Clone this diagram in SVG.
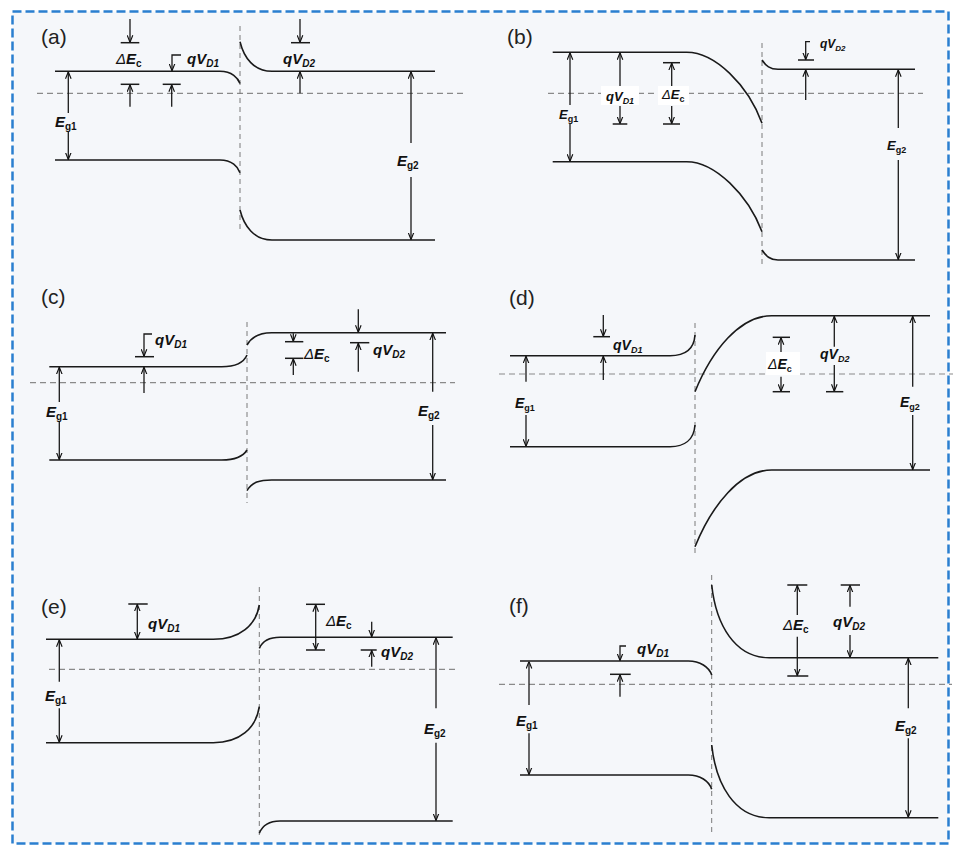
<svg xmlns="http://www.w3.org/2000/svg" width="961" height="856" viewBox="0 0 961 856">
<defs>
<style>
.band{fill:none;stroke:#1a1a1a;stroke-width:1.6}
.fermi{fill:none;stroke:#8a8a8a;stroke-width:1.2;stroke-dasharray:6 4}
.iface{fill:none;stroke:#7a7a7a;stroke-width:1;stroke-dasharray:5 4}
.ar{fill:none;stroke:#1a1a1a;stroke-width:1.3;marker-end:url(#ah)}
.ar2{fill:none;stroke:#1a1a1a;stroke-width:1.3;marker-start:url(#ah);marker-end:url(#ah)}
.bar{fill:none;stroke:#1a1a1a;stroke-width:1.5}
.lb{font-family:"Liberation Sans",Arial,sans-serif;font-weight:bold;font-style:italic;font-size:15px;fill:#111}
.sm{font-size:13px}
.sub{font-size:10px}
.up{font-style:normal}
.dl{font-style:italic;font-weight:normal}
.pl{font-family:"Liberation Sans",Arial,sans-serif;font-size:21px;fill:#222}
</style>
<marker id="ah" viewBox="0 0 8 8" refX="8" refY="4" markerWidth="7" markerHeight="7" markerUnits="userSpaceOnUse" orient="auto-start-reverse"><path d="M0,0.8 L8,4 L0,7.2" fill="none" stroke="#111" stroke-width="1.3"/></marker>
</defs>
<rect x="0" y="0" width="961" height="856" fill="#ffffff"/>
<rect x="12.5" y="11.5" width="936" height="832" fill="#f5f7fa" stroke="#2a7fd0" stroke-width="2.5" stroke-dasharray="9 4"/>

<!-- Panel a -->
<g id="panel-a">
<text class="pl" x="41" y="44">(a)</text>
<line class="fermi" x1="37" y1="93.3" x2="467" y2="93.3"/>
<line class="iface" x1="240" y1="26" x2="240" y2="230"/>
<path class="band" d="M55,71.3 H220 C232,71.3 238,78 240,83.5"/>
<path class="band" d="M55,160 H220 C232,160 238,167 240,172.7"/>
<path class="band" d="M240,41.7 C244,58 254,71.3 272,71.3 H435"/>
<path class="band" d="M240,210 C244,226 254,240 272,240 H435"/>
<text class="lb" x="116" y="64"><tspan class="dl">Δ</tspan>E<tspan class="sub up" dy="3">c</tspan></text>
<text class="lb" x="187" y="64">qV<tspan class="sub" dy="3">D1</tspan></text>
<text class="lb" x="283" y="64">qV<tspan class="sub" dy="3">D2</tspan></text>
<text class="lb" x="55" y="127">E<tspan class="sub up" dy="3">g1</tspan></text>
<text class="lb" x="397" y="166">E<tspan class="sub up" dy="3">g2</tspan></text>
</g>

<!-- Panel b -->
<g id="panel-b">
<text class="pl" x="507" y="44">(b)</text>
<line class="fermi" x1="548" y1="93.3" x2="923" y2="93.3"/>
<line class="iface" x1="762" y1="43" x2="762" y2="265"/>
<path class="band" d="M552.7,52.3 H686.7 C715,52.3 748,85 762,123.3"/>
<path class="band" d="M552.7,161.7 H686.7 C715,161.7 748,195 762,231.7"/>
<path class="band" d="M762,60 C766,66 770,69.3 778,69.3 H915"/>
<path class="band" d="M762,250 C766,256 770,260 778,260 H915"/>
<rect x="601" y="86" width="38" height="19" fill="#ffffff"/>
<rect x="658" y="86" width="31" height="19" fill="#ffffff"/>
<text class="lb sm" x="606" y="101">qV<tspan class="sub" dy="3" style="font-size:9px">D1</tspan></text>
<text class="lb sm" x="662" y="99"><tspan class="dl">Δ</tspan>E<tspan class="sub up" dy="3" style="font-size:9px">c</tspan></text>
<text class="lb sm" x="559" y="119">E<tspan class="sub up" dy="3" style="font-size:9px">g1</tspan></text>
<text class="lb" x="820" y="48" style="font-size:12px">qV<tspan class="sub" dy="3" style="font-size:8px">D2</tspan></text>
<text class="lb sm" x="887" y="150">E<tspan class="sub up" dy="3" style="font-size:9px">g2</tspan></text>
</g>

<!-- Panel c -->
<g id="panel-c">
<text class="pl" x="41" y="304">(c)</text>
<line class="fermi" x1="30" y1="382.7" x2="455" y2="382.7"/>
<line class="iface" x1="247" y1="322" x2="247" y2="503"/>
<path class="band" d="M49.3,366.7 H221.7 C236,366.7 244,362 247,355"/>
<path class="band" d="M49.3,460 H221.7 C236,460 244,455 247,450"/>
<path class="band" d="M247,345 C252,336 260,332.7 271.7,332.7 H446"/>
<path class="band" d="M247,490.7 C252,482 260,480 271.7,480 H446"/>
<text class="lb" x="155" y="345">qV<tspan class="sub" dy="3">D1</tspan></text>
<text class="lb" x="304" y="359"><tspan class="dl">Δ</tspan>E<tspan class="sub up" dy="3">c</tspan></text>
<text class="lb" x="373" y="355">qV<tspan class="sub" dy="3">D2</tspan></text>
<text class="lb" x="46" y="417">E<tspan class="sub up" dy="3">g1</tspan></text>
<text class="lb" x="418" y="416">E<tspan class="sub up" dy="3">g2</tspan></text>
</g>

<!-- Panel d -->
<g id="panel-d">
<text class="pl" x="509" y="305">(d)</text>
<line class="fermi" x1="499" y1="374" x2="953" y2="374"/>
<line class="iface" x1="695" y1="323" x2="695" y2="557"/>
<path class="band" d="M510,355.7 H670 C684,355.7 694,350 695,335"/>
<path class="band" d="M510,446.7 H670 C684,446.7 694,440 695,425"/>
<path class="band" d="M695,391.7 C712,350 740,315.7 771.7,315.7 H930"/>
<path class="band" d="M695,546.7 C712,505 740,470 771.7,470 H930"/>
<rect x="766" y="352" width="34" height="23" fill="#ffffff"/>
<text class="lb" x="613" y="350" style="font-size:14px">qV<tspan class="sub" dy="3" style="font-size:9px">D1</tspan></text>
<text class="lb" x="768" y="369" style="font-size:14px"><tspan class="dl">Δ</tspan>E<tspan class="sub up" dy="3" style="font-size:9px">c</tspan></text>
<text class="lb" x="820" y="359" style="font-size:14px">qV<tspan class="sub" dy="3" style="font-size:9px">D2</tspan></text>
<text class="lb" x="515" y="408" style="font-size:14px">E<tspan class="sub up" dy="3" style="font-size:9px">g1</tspan></text>
<text class="lb" x="900" y="407" style="font-size:14px">E<tspan class="sub up" dy="3" style="font-size:9px">g2</tspan></text>
</g>

<!-- Panel e -->
<g id="panel-e">
<text class="pl" x="41" y="614">(e)</text>
<line class="fermi" x1="49" y1="669.3" x2="457" y2="669.3"/>
<line class="iface" x1="259.3" y1="587" x2="259.3" y2="837"/>
<path class="band" d="M46,639.3 H213.3 C240,639.3 256,625 259.3,605"/>
<path class="band" d="M46,742.7 H213.3 C240,742.7 256,728 259.3,706.7"/>
<path class="band" d="M259.3,648.3 C263,640 270,637.3 280,637.3 H452.7"/>
<path class="band" d="M259.3,833.3 C263,824 270,821 280,821 H452.7"/>
<text class="lb" x="148" y="629">qV<tspan class="sub" dy="3">D1</tspan></text>
<text class="lb" x="326" y="626"><tspan class="dl">Δ</tspan>E<tspan class="sub up" dy="3">c</tspan></text>
<text class="lb" x="381" y="657">qV<tspan class="sub" dy="3">D2</tspan></text>
<text class="lb" x="45" y="701">E<tspan class="sub up" dy="3">g1</tspan></text>
<text class="lb" x="424" y="734">E<tspan class="sub up" dy="3">g2</tspan></text>
</g>

<!-- Panel f -->
<g id="panel-f">
<text class="pl" x="509" y="613">(f)</text>
<line class="fermi" x1="499" y1="684.3" x2="952" y2="684.3"/>
<line class="iface" x1="711.7" y1="575" x2="711.7" y2="833"/>
<path class="band" d="M520,661 H688.3 C700,661 709,667 711.7,675"/>
<path class="band" d="M520,775 H688.3 C700,775 709,781 711.7,789.3"/>
<path class="band" d="M711.7,585 C716,625 735,657.7 769.3,657.7 H938.3"/>
<path class="band" d="M711.7,745 C716,785 735,817.7 769.3,817.7 H938.3"/>
<text class="lb" x="637" y="654">qV<tspan class="sub" dy="3">D1</tspan></text>
<text class="lb" x="783" y="630"><tspan class="dl">Δ</tspan>E<tspan class="sub up" dy="3">c</tspan></text>
<text class="lb" x="833" y="627">qV<tspan class="sub" dy="3">D2</tspan></text>
<text class="lb" x="516" y="726">E<tspan class="sub up" dy="3">g1</tspan></text>
<text class="lb" x="895" y="731">E<tspan class="sub up" dy="3">g2</tspan></text>
</g>

<!-- Connectors: dimension arrows and bars -->
<g id="connectors">
<!-- a -->
<line class="ar" x1="130" y1="19" x2="130" y2="42.3"/>
<line class="bar" x1="120.7" y1="42.7" x2="139.3" y2="42.7"/>
<line class="bar" x1="120.7" y1="84.3" x2="139.3" y2="84.3"/>
<line class="ar" x1="130" y1="106.7" x2="130" y2="84.8"/>
<path class="ar" d="M181,55 H172 V70.8"/>
<line class="bar" x1="162.7" y1="84.3" x2="180.7" y2="84.3"/>
<line class="ar" x1="171.7" y1="106.7" x2="171.7" y2="84.8"/>
<line class="ar" x1="300" y1="19" x2="300" y2="42.3"/>
<line class="bar" x1="291" y1="42.7" x2="310" y2="42.7"/>
<line class="ar" x1="300" y1="93.3" x2="300" y2="71.8"/>
<line class="ar" x1="68.3" y1="113" x2="68.3" y2="71.8"/>
<line class="ar" x1="68.3" y1="131" x2="68.3" y2="159.5"/>
<line class="ar" x1="411" y1="143" x2="411" y2="71.8"/>
<line class="ar" x1="411" y1="177" x2="411" y2="239.5"/>
<!-- b -->
<line class="ar" x1="570" y1="105" x2="570" y2="52.8"/>
<line class="ar" x1="570" y1="124" x2="570" y2="161.2"/>
<line class="ar" x1="620" y1="86" x2="620" y2="52.8"/>
<line class="ar" x1="620" y1="106" x2="620" y2="123.6"/>
<line class="bar" x1="612.7" y1="124" x2="627.3" y2="124"/>
<line class="bar" x1="663" y1="62.7" x2="680" y2="62.7"/>
<line class="ar" x1="671.7" y1="86" x2="671.7" y2="63.1"/>
<line class="ar" x1="671.7" y1="106" x2="671.7" y2="123.6"/>
<line class="bar" x1="663" y1="124" x2="680" y2="124"/>
<path class="ar" d="M810,41.7 H805.7 V59.6"/>
<line class="bar" x1="798" y1="60" x2="814" y2="60"/>
<line class="ar" x1="805.7" y1="100" x2="805.7" y2="69.8"/>
<line class="ar" x1="898.3" y1="128" x2="898.3" y2="69.8"/>
<line class="ar" x1="898.3" y1="160" x2="898.3" y2="259.5"/>
<!-- c -->
<line class="ar" x1="59.3" y1="402" x2="59.3" y2="367.2"/>
<line class="ar" x1="59.3" y1="422" x2="59.3" y2="459.5"/>
<path class="ar" d="M152,334 H144 V356.2"/>
<line class="bar" x1="135" y1="356.7" x2="154" y2="356.7"/>
<line class="ar" x1="144" y1="393" x2="144" y2="367.2"/>
<line class="ar" x1="293.3" y1="333.3" x2="293.3" y2="341.3"/>
<line class="bar" x1="285" y1="341.7" x2="303.3" y2="341.7"/>
<line class="bar" x1="285" y1="358.3" x2="303.3" y2="358.3"/>
<line class="ar" x1="293.3" y1="375" x2="293.3" y2="358.8"/>
<line class="ar" x1="358.3" y1="309.3" x2="358.3" y2="332.2"/>
<line class="bar" x1="350" y1="342.7" x2="369.3" y2="342.7"/>
<line class="ar" x1="358.3" y1="371.7" x2="358.3" y2="343.2"/>
<line class="ar" x1="432.7" y1="391.7" x2="432.7" y2="333.2"/>
<line class="ar" x1="432.7" y1="425" x2="432.7" y2="479.5"/>
<!-- d -->
<line class="ar" x1="526" y1="381.7" x2="526" y2="356.2"/>
<line class="ar" x1="526" y1="415" x2="526" y2="446.2"/>
<line class="ar" x1="603.3" y1="315" x2="603.3" y2="336.3"/>
<line class="bar" x1="593.3" y1="336.7" x2="610" y2="336.7"/>
<line class="ar" x1="603.3" y1="380" x2="603.3" y2="356.2"/>
<line class="bar" x1="772.7" y1="337.3" x2="790" y2="337.3"/>
<line class="ar" x1="781" y1="352" x2="781" y2="337.7"/>
<line class="ar" x1="781" y1="376.7" x2="781" y2="391.3"/>
<line class="bar" x1="772.7" y1="391.7" x2="790" y2="391.7"/>
<line class="ar" x1="834.3" y1="346.7" x2="834.3" y2="316.2"/>
<line class="ar" x1="834.3" y1="365" x2="834.3" y2="391.3"/>
<line class="bar" x1="826" y1="391.7" x2="843.3" y2="391.7"/>
<line class="ar" x1="912.7" y1="386.7" x2="912.7" y2="316.2"/>
<line class="ar" x1="912.7" y1="415" x2="912.7" y2="469.5"/>
<!-- e -->
<line class="ar" x1="59.3" y1="681.7" x2="59.3" y2="639.8"/>
<line class="ar" x1="59.3" y1="708.3" x2="59.3" y2="742.2"/>
<line class="bar" x1="128.3" y1="604" x2="147.7" y2="604"/>
<line class="ar2" x1="137.3" y1="604.4" x2="137.3" y2="638.8"/>
<line class="bar" x1="306" y1="604.3" x2="325" y2="604.3"/>
<line class="bar" x1="306" y1="650" x2="325" y2="650"/>
<line class="ar2" x1="315.7" y1="604.7" x2="315.7" y2="649.6"/>
<line class="ar" x1="371.7" y1="621.7" x2="371.7" y2="636.8"/>
<line class="bar" x1="360.7" y1="650" x2="376.7" y2="650"/>
<line class="ar" x1="371.7" y1="666.7" x2="371.7" y2="650.4"/>
<line class="ar" x1="436" y1="708.3" x2="436" y2="637.8"/>
<line class="ar" x1="436" y1="742.7" x2="436" y2="820.5"/>
<!-- f -->
<line class="ar" x1="529" y1="705" x2="529" y2="661.5"/>
<line class="ar" x1="529" y1="733.3" x2="529" y2="774.5"/>
<path class="ar" d="M626,646 H620 V660.5"/>
<line class="bar" x1="610" y1="674.3" x2="630.7" y2="674.3"/>
<line class="ar" x1="620" y1="696.7" x2="620" y2="674.7"/>
<line class="bar" x1="787.3" y1="585" x2="807.3" y2="585"/>
<line class="ar" x1="797.3" y1="615" x2="797.3" y2="585.4"/>
<line class="ar" x1="797.3" y1="636.7" x2="797.3" y2="675.6"/>
<line class="bar" x1="787.3" y1="676" x2="808.3" y2="676"/>
<line class="bar" x1="840.7" y1="585" x2="860" y2="585"/>
<line class="ar" x1="850" y1="606.7" x2="850" y2="585.4"/>
<line class="ar" x1="850" y1="635" x2="850" y2="657.2"/>
<line class="ar" x1="908.3" y1="708.3" x2="908.3" y2="658.2"/>
<line class="ar" x1="908.3" y1="738.3" x2="908.3" y2="817.2"/>
</g>
</svg>
